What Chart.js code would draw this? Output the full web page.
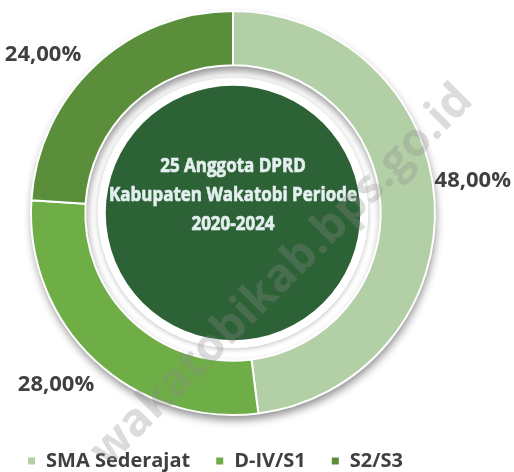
<!DOCTYPE html>
<html>
<head>
<meta charset="utf-8">
<script src="https://cdn.jsdelivr.net/npm/chart.js@4.4.1/dist/chart.umd.min.js"></script>
<style>
  html, body { margin: 0; padding: 0; background: #fff; }
  #wrap { width: 514px; height: 472px; }
</style>
</head>
<body>
<div id="wrap"><canvas id="myChart"></canvas></div>
<script>
// data
const categories = ['SMA Sederajat', 'D-IV/S1', 'S2/S3'];
const shares = [48, 28, 24];
const sliceColors = ['#B3CFA6', '#6FAD47', '#5B8E3B'];
const centerLines = ['25 Anggota DPRD', 'Kabupaten Wakatobi Periode', '2020-2024'];
const watermark = 'wakatobikab.bps.go.id';

// label nudges (px) so the percentages sit like the original
const labelNudge = [[-8, -19], [5, 19], [-8, -5]];

function fmtPct(v) {
  return v.toFixed(2).replace('.', ',') + '%';
}

const decor = {
  id: 'decor',
  afterLayout(chart) {
    // legend sits a little left of the ring centre in the original
    chart.legend.left -= 18;
    chart.legend.right -= 18;
  },
  beforeDatasetsDraw(chart) {
    const arc = chart.getDatasetMeta(0).data[0];
    if (!arc) return;
    const ctx = chart.ctx;
    const {x, y, outerRadius, innerRadius} = arc;
    // ring shadow
    ctx.save();
    ctx.shadowColor = 'rgba(0,0,0,0.45)';
    ctx.shadowBlur = 9;
    ctx.shadowOffsetX = 1;
    ctx.shadowOffsetY = 5;
    ctx.beginPath();
    ctx.arc(x, y, outerRadius, 0, Math.PI * 2);
    ctx.arc(x, y, innerRadius, 0, Math.PI * 2, true);
    ctx.fillStyle = '#fff';
    ctx.fill();
    ctx.restore();
    // centre disc
    ctx.save();
    ctx.shadowColor = 'rgba(0,0,0,0.25)';
    ctx.shadowBlur = 5;
    ctx.shadowOffsetY = 1;
    ctx.beginPath();
    ctx.arc(x, y, outerRadius * 0.67, 0, Math.PI * 2);
    ctx.fillStyle = '#fff';
    ctx.fill();
    ctx.restore();
    ctx.beginPath();
    ctx.arc(x, y, outerRadius * 0.63, 0, Math.PI * 2);
    ctx.fillStyle = '#2D6236';
    ctx.fill();
  },
  afterDatasetsDraw(chart) {
    const meta = chart.getDatasetMeta(0);
    const ctx = chart.ctx;
    const first = meta.data[0];
    // centre text, squeezed to the narrow look of the original
    ctx.save();
    ctx.fillStyle = '#E4EFEF';
    ctx.strokeStyle = '#E4EFEF';
    ctx.lineWidth = 0.7;
    ctx.font = 'bold 20px "Open Sans", sans-serif';
    ctx.textAlign = 'center';
    ctx.textBaseline = 'middle';
    const widest = Math.max(...centerLines.map(t => ctx.measureText(t).width));
    const sx = 248 / widest;
    ctx.translate(first.x, first.y);
    ctx.scale(sx, 1);
    centerLines.forEach((t, i) => {
      ctx.fillText(t, 0, -47 + i * 29);
      ctx.strokeText(t, 0, -47 + i * 29);
    });
    ctx.restore();
    // percentage labels
    ctx.save();
    ctx.fillStyle = '#404040';
    ctx.font = 'bold 22px "Open Sans", sans-serif';
    ctx.textBaseline = 'middle';
    meta.data.forEach((a, i) => {
      const mid = (a.startAngle + a.endAngle) / 2;
      const r = a.outerRadius + 8;
      const cx = a.x + r * Math.cos(mid) + labelNudge[i][0];
      const cy = a.y + r * Math.sin(mid) + labelNudge[i][1];
      ctx.textAlign = Math.cos(mid) >= 0 ? 'left' : 'right';
      ctx.fillText(fmtPct(shares[i]), cx, cy);
    });
    ctx.restore();
  },
  afterDraw(chart) {
    const ctx = chart.ctx;
    ctx.save();
    ctx.translate(282, 276);
    ctx.rotate(-Math.PI / 4);
    ctx.font = 'bold 46px "Open Sans", sans-serif';
    ctx.textAlign = 'center';
    ctx.textBaseline = 'middle';
    ctx.fillStyle = 'rgba(140,140,140,0.3)';
    ctx.fillText(watermark, 0, 0);
    ctx.restore();
  }
};

const data = {
  labels: categories,
  datasets: [{
    data: shares,
    backgroundColor: sliceColors,
    borderColor: '#ffffff',
    borderWidth: 2
  }]
};

const config = {
  type: 'doughnut',
  data,
  options: {
    responsive: true,
    maintainAspectRatio: false,
    animation: false,
    radius: 202,
    cutout: 155,
    layout: { padding: { top: 0, left: 0, right: 48, bottom: -9 } },
    plugins: {
      legend: {
        position: 'bottom',
        labels: {
          boxWidth: 9,
          boxHeight: 9,
          padding: 25,
          color: '#404040',
          font: { family: '"Open Sans", sans-serif', size: 20, weight: 'bold' }
        }
      },
      tooltip: { enabled: false }
    }
  },
  plugins: [decor]
};

const myChart = new Chart(document.getElementById('myChart'), config);
</script>
</body>
</html>
